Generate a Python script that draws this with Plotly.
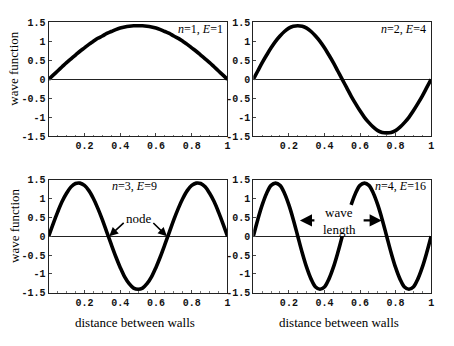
import plotly.graph_objects as go

# sample positions along the box (fraction of distance between walls)
x_pos = [i * 0.025 for i in range(41)]

# wave function values
psi_n1 = [0, 0.11, 0.22, 0.33, 0.44, 0.54, 0.64, 0.74, 0.83, 0.92, 1.00, 1.08, 1.14, 1.21, 1.26, 1.31, 1.35, 1.38, 1.40, 1.41, 1.41,
          1.41, 1.40, 1.38, 1.35, 1.31, 1.26, 1.21, 1.14, 1.08, 1.00, 0.92, 0.83, 0.74, 0.64, 0.54, 0.44, 0.33, 0.22, 0.11, 0]
psi_n2 = [0, 0.22, 0.44, 0.64, 0.83, 1.00, 1.14, 1.26, 1.35, 1.40, 1.41, 1.40, 1.35, 1.26, 1.14, 1.00, 0.83, 0.64, 0.44, 0.22, 0,
          -0.22, -0.44, -0.64, -0.83, -1.00, -1.14, -1.26, -1.35, -1.40, -1.41, -1.40, -1.35, -1.26, -1.14, -1.00, -0.83, -0.64, -0.44, -0.22, 0]
psi_n3 = [0, 0.33, 0.64, 0.92, 1.14, 1.31, 1.40, 1.41, 1.35, 1.21, 1.00, 0.74, 0.44, 0.11, -0.22, -0.54, -0.83, -1.08, -1.26, -1.38, -1.41,
          -1.38, -1.26, -1.08, -0.83, -0.54, -0.22, 0.11, 0.44, 0.74, 1.00, 1.21, 1.35, 1.41, 1.40, 1.31, 1.14, 0.92, 0.64, 0.33, 0]
# curve n=4 is interrupted behind the "wave length" label (None = gap)
psi_n4 = [0, 0.44, 0.83, 1.14, 1.35, 1.41, 1.35, 1.14, 0.83, 0.44, 0, -0.44, -0.83, -1.14, -1.35, -1.41, -1.35, -1.14, -0.83, -0.44, 0,
          None, 0.83, 1.14, 1.35, 1.41, 1.35, 1.14, 0.83, 0.44, 0, -0.44, -0.83, -1.14, -1.35, -1.41, -1.35, -1.14, -0.83, -0.44, 0]

panel_labels = ["<i>n</i>=1, <i>E</i>=1", "<i>n</i>=2, <i>E</i>=4", "<i>n</i>=3, <i>E</i>=9", "<i>n</i>=4, <i>E</i>=16"]
x_tickvals = [0.2, 0.4, 0.6, 0.8, 1]
x_ticktext = ["0.2", "0.4", "0.6", "0.8", "1"]
y_tickvals = [-1.5, -1, -0.5, 0, 0.5, 1, 1.5]
y_ticktext = ["-1.5", "-1", "-0.5", "0", "0.5", "1", "1.5"]

W, H = 454, 346
# panel pixel boxes (left, right, top, bottom)
boxes = [(49, 229, 18, 136), (255, 434, 18, 136), (49, 229, 181, 298), (255, 434, 181, 298)]

fig = go.Figure()
series = [psi_n1, psi_n2, psi_n3, psi_n4]
tickfont = dict(family="Liberation Mono", size=10, color="#111", weight="bold")
serif = "Liberation Serif"

layout = dict(width=W, height=H, margin=dict(l=0, r=0, t=0, b=0),
              paper_bgcolor="white", plot_bgcolor="white", showlegend=False)
for i, (l, r, t, b) in enumerate(boxes):
    k = "" if i == 0 else str(i + 1)
    fig.add_trace(go.Scatter(x=x_pos, y=series[i], mode="lines",
                             line=dict(color="black", width=3.6, shape="spline"),
                             connectgaps=False, xaxis="x" + k, yaxis="y" + k,
                             hoverinfo="skip"))
    layout["xaxis" + k] = dict(domain=[l / W, r / W], range=[0, 1], anchor="y" + k,
                               tickvals=x_tickvals, ticktext=x_ticktext, tickfont=tickfont,
                               showgrid=False, zeroline=False, showline=True, mirror=True,
                               linecolor="#222", linewidth=1.2, ticks="inside", ticklen=3,
                               tickcolor="#444", tickwidth=1,
                               minor=dict(ticks="inside", ticklen=1.5, tickcolor="#777", nticks=5, showgrid=False))
    layout["yaxis" + k] = dict(domain=[1 - b / H, 1 - t / H], range=[-1.5, 1.5], anchor="x" + k,
                               tickvals=y_tickvals, ticktext=y_ticktext, tickfont=tickfont,
                               showgrid=False, zeroline=True, zerolinecolor="#222", zerolinewidth=1.2,
                               showline=True, mirror=True, linecolor="#222", linewidth=1.2,
                               ticks="inside", ticklen=3, tickcolor="#444", tickwidth=1)
fig.update_layout(**layout)

ann = []
# panel labels
label_pos = [("x", "y", 0.985, 1.33, "right"), ("x2", "y2", 0.985, 1.33, "right"),
             ("x3", "y3", 0.48, 1.33, "center"), ("x4", "y4", 0.985, 1.33, "right")]
for (xr, yr, xx, yy, al), txt in zip(label_pos, panel_labels):
    ann.append(dict(x=xx, y=yy, xref=xr, yref=yr, text=txt, showarrow=False, xanchor=al, yanchor="middle",
                    font=dict(family=serif, size=12, color="black")))

# axis titles
for yc in [65, 228]:
    ann.append(dict(x=14 / W, y=1 - yc / H, xref="paper", yref="paper", text="wave function",
                    xanchor="center", yanchor="middle",
                    textangle=-90, showarrow=False, font=dict(family=serif, size=13, color="black")))
for xc in [136, 341]:
    ann.append(dict(x=xc / W, y=1 - 329 / H, xref="paper", yref="paper", text="distance between walls",
                    xanchor="center", yanchor="middle",
                    showarrow=False, font=dict(family=serif, size=13, color="black")))

# node label and arrows
ann.append(dict(x=0.505, y=0.47, xref="x3", yref="y3", text="node", showarrow=False,
                xanchor="center", yanchor="middle",
                font=dict(family=serif, size=13, color="black")))
for (tx, ty, sx, sy) in [(0.339, 0.0, 0.428, 0.39), (0.661, 0.0, 0.577, 0.39)]:
    ann.append(dict(x=tx, y=ty, ax=sx, ay=sy, xref="x3", yref="y3", axref="x3", ayref="y3",
                    text="", showarrow=True, arrowhead=2, arrowsize=1.1, arrowwidth=1.6, arrowcolor="black"))

# wave length label (two lines) and arrows
for txt, yy in [("wave", 0.63), ("length", 0.19)]:
    ann.append(dict(x=0.483, y=yy, xref="x4", yref="y4", text=txt, showarrow=False,
                    xanchor="center", yanchor="middle", borderpad=0,
                    font=dict(family=serif, size=13, color="black")))
for (tx, ty, sx, sy) in [(0.262, 0.42, 0.352, 0.42), (0.722, 0.42, 0.612, 0.42)]:
    ann.append(dict(x=tx, y=ty, ax=sx, ay=sy, xref="x4", yref="y4", axref="x4", ayref="y4",
                    text="", showarrow=True, arrowhead=2, arrowsize=1.1, arrowwidth=2.2, arrowcolor="black"))

fig.update_layout(annotations=ann)
fig.write_html("out.html")
